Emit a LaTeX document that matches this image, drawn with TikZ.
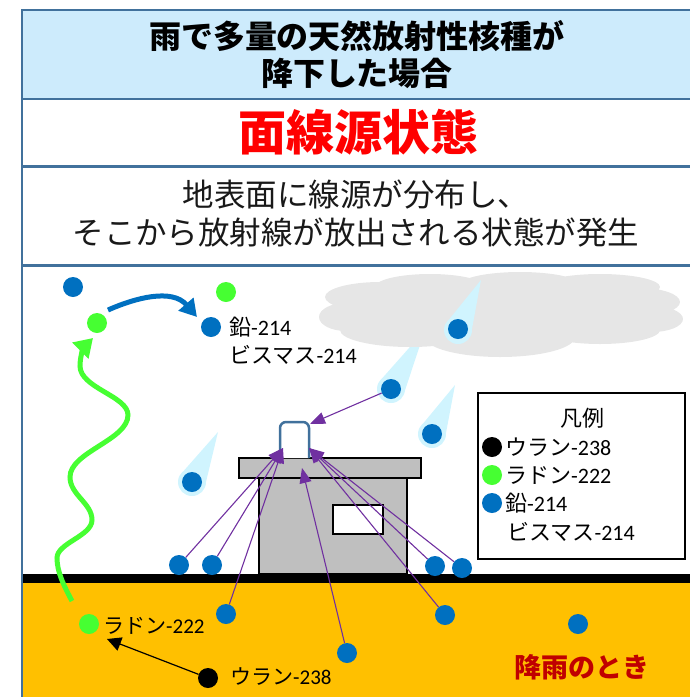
\documentclass[tikz,border=0pt]{standalone}
\usepackage{fontspec}
\setmainfont{Noto Sans CJK JP}
\newfontfamily\latn{Carlito}
\usetikzlibrary{arrows.meta,calc}
\definecolor{hdblue}{RGB}{205,235,252}
\definecolor{frameblue}{RGB}{65,113,156}
\definecolor{nucblue}{RGB}{0,112,192}
\definecolor{nucgreen}{RGB}{70,255,50}
\definecolor{raincyan}{RGB}{208,244,254}
\definecolor{cloudgray}{RGB}{230,230,230}
\definecolor{soilyellow}{RGB}{255,192,0}
\definecolor{roofgray}{RGB}{191,191,191}
\definecolor{rayviolet}{RGB}{112,48,160}
\definecolor{darkred}{RGB}{192,0,0}

\tikzset{
  nuc/.style={circle,inner sep=0pt,minimum size=20pt},
  u238/.style={nuc,fill=black},
  rn222/.style={nuc,fill=nucgreen},
  pb214/.style={nuc,fill=nucblue},
  ray/.style={rayviolet,line width=1.1pt,-{Triangle[length=15pt,width=12pt]}},
  lbl/.style={anchor=west,inner sep=0pt,font=\fontsize{22}{26}\selectfont},
  frame/.style={frameblue,line width=2.5pt},
  wall/.style={fill=roofgray,draw=black,line width=2.5pt},
}

\begin{document}
\begin{tikzpicture}[x=1pt,y=-1pt]
  \useasboundingbox (0,0) rectangle (689,697);

  % header
  \fill[hdblue] (22,10) rectangle (700,99);
  \node[align=center,font=\bfseries\fontsize{32}{37}\selectfont] (title) at (357,55)
    {雨で多量の天然放射性核種が\\降下した場合};
  \node[text=red,font=\bfseries\fontsize{48}{52}\selectfont] (state) at (358,132) {面線源状態};
  \node[align=center,text=black!90,font=\fontsize{31.5}{38}\selectfont] (desc) at (356,214)
    {地表面に線源が分布し、\\そこから放射線が放出される状態が発生};

  % ground
  \fill[soilyellow] (22,583) rectangle (700,710);
  \fill[black] (22,574) rectangle (700,583);

  % house
  \draw[wall] (259,478) rectangle (407,574);
  \draw[wall] (239,458) rectangle (421,478);
  \draw[fill=white,line width=2.5pt] (333,505) rectangle (383,534);
  \draw[frameblue,fill=white,line width=2.5pt,rounded corners=6pt]
    (280,458) -- (280,422) -- (309,422) -- (309,458);

  % rain streaks
  \foreach \cx/\cy/\tx/\ty in {391/389/425/330, 432/434/455/385, 192/482/218/432}
    \fill[raincyan] (\tx,\ty) -- ($(\cx,\cy)!14pt!90:(\tx,\ty)$)
      -- ($(\cx,\cy)!14pt!-90:(\tx,\ty)$) -- cycle (\cx,\cy) circle[radius=14pt];

  % cloud
  \fill[cloudgray]
    (500,312) ellipse[x radius=150,y radius=30]
    (380,297) ellipse[x radius=55,y radius=15]
    (346,317) ellipse[x radius=27,y radius=14]
    (430,287) ellipse[x radius=55,y radius=13]
    (520,285) ellipse[x radius=60,y radius=13]
    (600,287) ellipse[x radius=60,y radius=13]
    (640,302) ellipse[x radius=40,y radius=14]
    (652,319) ellipse[x radius=31,y radius=13]
    (600,330) ellipse[x radius=60,y radius=14]
    (500,337) ellipse[x radius=75,y radius=20]
    (410,330) ellipse[x radius=70,y radius=17];
  \fill[raincyan] (481,280) -- ($(458,330)!14pt!90:(481,280)$)
    -- ($(458,330)!14pt!-90:(481,280)$) -- cycle (458,330) circle[radius=14pt];

  \draw[frame] (700,10) -- (22,10) -- (22,710);
  \draw[frame] (22,99) -- (700,99);
  \draw[frame] (22,166.5) -- (700,166.5);
  \draw[frame] (22,265.5) -- (700,265.5);

  % nuclides
  \node[pb214] (pbA) at (73,287) {};
  \node[pb214] (pbB) at (211,327) {};
  \node[rn222] (rnA) at (226,292) {};
  \node[rn222] (rnB) at (97,323) {};
  \node[pb214] (pbR1) at (458,329) {};
  \node[pb214] (pbR2) at (391,389) {};
  \node[pb214] (pbR3) at (432,434) {};
  \node[pb214] (pbR4) at (192,482) {};
  \node[pb214] (pbG1) at (179,565) {};
  \node[pb214] (pbG2) at (212,565) {};
  \node[pb214] (pbG3) at (435,566) {};
  \node[pb214] (pbG4) at (462,568) {};
  \node[pb214] (pbU1) at (226,614) {};
  \node[pb214] (pbU2) at (347,653) {};
  \node[pb214] (pbU3) at (445,615) {};
  \node[pb214] (pbU4) at (578,624) {};
  \node[rn222] (rnSoil) at (89,624) {};
  \node[u238] (uSoil) at (208,678) {};

  \node[lbl] (pbLblA) at (229,327) {鉛{\latn -214}};
  \node[lbl] (pbLblB) at (229,355) {ビスマス{\latn -214}};
  \node[lbl,font=\fontsize{21}{24}\selectfont] (rnLbl) at (103,626) {ラドン{\latn -222}};
  \node[lbl,font=\fontsize{21}{24}\selectfont] (uLbl) at (230,677) {ウラン{\latn -238}};
  \node[text=darkred,font=\bfseries\fontsize{27}{30}\selectfont] (rainTag) at (582,667) {降雨のとき};

  % decay and transport
  \coordinate (rnTip) at (107,639);
  \draw[line width=1.2pt,-{Triangle[length=14pt,width=14pt]}] (uSoil) -- (rnTip);
  \draw[nucgreen,line width=5pt,-{Triangle[length=18pt,width=22pt]}]
    (72,601) .. controls (64,586) and (57,572) .. (57,558)
    .. controls (57,543) and (92,536) .. (92,520)
    .. controls (92,503) and (70,495) .. (70,477)
    .. controls (70,452) and (128,440) .. (128,415)
    .. controls (128,396) and (80,388) .. (80,366)
    .. controls (80,356) and (84,347) .. (93,338);
  \draw[nucblue,line width=5pt,-{Triangle[length=17pt,width=19pt]}]
    (108,310) .. controls (135,298) and (172,288) .. (197,317);

  % rays onto the detector
  \coordinate (hitL) at (283,448);
  \coordinate (hitR) at (309,448);
  \coordinate (hitM) at (302,468);
  \coordinate (hitT) at (310,424);
  \foreach \n in {pbG1,pbG2,pbU1} \draw[ray] (\n) -- (hitL);
  \foreach \n in {pbG3,pbG4,pbU3} \draw[ray] (\n) -- (hitR);
  \draw[ray] (pbU2) -- (hitM);
  \draw[ray] (pbR2) -- (hitT);

  % legend
  \draw[fill=white,line width=2pt] (478,393) rectangle (685,559);
  \node[font=\fontsize{22}{26}\selectfont] (legTitle) at (582,418) {凡例};
  \node[u238] (legU) at (492,447) {};
  \node[rn222] (legRn) at (492,475) {};
  \node[pb214] (legPb) at (492,503) {};
  \node[lbl] (legULbl) at (505,447) {ウラン{\latn -238}};
  \node[lbl] (legRnLbl) at (505,475) {ラドン{\latn -222}};
  \node[lbl] (legPbLbl) at (505,503) {鉛{\latn -214}};
  \node[lbl] (legBiLbl) at (507,532) {ビスマス{\latn -214}};
\end{tikzpicture}
\end{document}
